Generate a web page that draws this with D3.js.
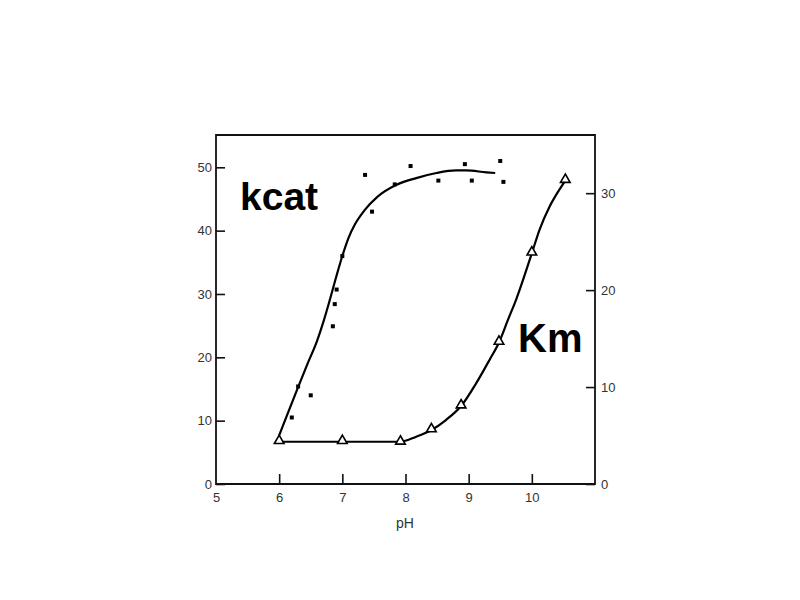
<!DOCTYPE html>
<html>
<head>
<meta charset="utf-8">
<script src="https://cdn.jsdelivr.net/npm/d3@7"></script>
<style>
    body { margin: 0; background: #fff; }
    text { font-family: "Liberation Sans", Arial, sans-serif; }
    .tick text { font-size: 13px; fill: #333; }
    .tick line { stroke: #111; stroke-width: 1.6; }
</style>
</head>
<body>
<svg id="chart" width="800" height="600"></svg>
<script>

// kcat measurements (pH, kcat) - small dots, left axis
let kcatPH  = [6.2, 6.3, 6.5, 6.85, 6.88, 6.91, 7.0, 7.36, 7.47, 7.83, 8.08, 8.52, 8.94, 9.05, 9.5, 9.55];
let kcatVal = [10.5, 15.4, 14.0, 24.9, 28.4, 30.7, 36.0, 48.8, 43.0, 47.3, 50.2, 47.9, 50.5, 47.9, 51.0, 47.7];

// fitted kcat curve
let kcatFitPH  = [6.0, 6.15, 6.3, 6.45, 6.6, 6.7, 6.8, 6.9, 7.0, 7.1, 7.2, 7.35, 7.55, 7.85, 8.17, 8.49, 8.8, 8.96, 9.28, 9.42];
let kcatFitVal = [7.7, 11.5, 15.3, 19.0, 22.6, 25.6, 29.0, 32.6, 36.0, 38.9, 41.0, 43.2, 45.3, 47.2, 48.3, 49.1, 49.5, 49.5, 49.2, 49.1];

// Km measurements (pH, Km) - open triangles, right axis
let kmPH  = [6.0, 7.0, 7.92, 8.41, 8.88, 9.48, 10.0, 10.53];
let kmVal = [4.36, 4.36, 4.3, 5.57, 8.04, 14.6, 23.8, 31.3];

// fitted Km curve
let kmFitPH  = [6.0, 7.0, 7.5, 7.92, 8.17, 8.41, 8.64, 8.88, 9.12, 9.33, 9.48, 9.62, 9.75, 10.0, 10.12, 10.28, 10.43, 10.53];
let kmFitVal = [4.36, 4.36, 4.36, 4.36, 4.88, 5.57, 6.6, 8.04, 10.4, 12.8, 14.6, 16.9, 19.0, 23.8, 26.2, 28.6, 30.3, 31.3];

// tick labels
let xTicks = [5, 6, 7, 8, 9, 10];
let leftTicks = [0, 10, 20, 30, 40, 50];
let rightTicks = [0, 10, 20, 30];

let svg = d3.select('#chart');

// plot frame in pixels
let frameLeft = 216, frameRight = 595, frameTop = 135, frameBottom = 484;

let x = d3.scaleLinear().domain([5, 11]).range([frameLeft, frameRight]);
let yLeft = d3.scaleLinear().domain([0, 55.1]).range([frameBottom, frameTop]);
let yRight = d3.scaleLinear().domain([0, 36]).range([frameBottom, frameTop]);

// axes with inward ticks, the frame is drawn separately
svg.append('g')
    .attr('transform', `translate(0,${frameBottom})`)
    .call(d3.axisBottom(x).tickValues(xTicks).tickFormat(d3.format('d'))
        .tickSizeInner(-10).tickSizeOuter(0).tickPadding(9))
    .call(g => g.select('.domain').remove())
    .call(g => g.selectAll('.tick line').filter(d => d === 5).remove()); // the "5" mark sits on the left axis

svg.append('g')
    .attr('transform', `translate(${frameLeft},0)`)
    .call(d3.axisLeft(yLeft).tickValues(leftTicks).tickSizeInner(-9).tickSizeOuter(0).tickPadding(4))
    .call(g => g.select('.domain').remove());

svg.append('g')
    .attr('transform', `translate(${frameRight},0)`)
    .call(d3.axisRight(yRight).tickValues(rightTicks).tickSizeInner(-9).tickSizeOuter(0).tickPadding(6))
    .call(g => g.select('.domain').remove());

// frame
svg.append('path')
    .attr('d', `M${frameLeft},${frameTop}H${frameRight}V${frameBottom}H${frameLeft}Z`)
    .attr('fill', 'none')
    .attr('stroke', '#111')
    .attr('stroke-width', 1.8);

// curves
let kcatLine = d3.line()
    .x((d, i) => x(kcatFitPH[i]))
    .y(d => yLeft(d))
    .curve(d3.curveMonotoneX);

let kmLine = d3.line()
    .x((d, i) => x(kmFitPH[i]))
    .y(d => yRight(d))
    .curve(d3.curveMonotoneX);

svg.append('path')
    .datum(kcatFitVal)
    .attr('d', kcatLine)
    .attr('fill', 'none')
    .attr('stroke', '#000')
    .attr('stroke-width', 2.2);

svg.append('path')
    .datum(kmFitVal)
    .attr('d', kmLine)
    .attr('fill', 'none')
    .attr('stroke', '#000')
    .attr('stroke-width', 2.2);

// kcat dots
svg.append('g')
    .selectAll('rect')
    .data(kcatVal)
    .join('rect')
        .attr('x', (d, i) => x(kcatPH[i]) - 2)
        .attr('y', d => yLeft(d) - 2)
        .attr('width', 4)
        .attr('height', 4)
        .attr('fill', '#000');

// Km open triangles
let tri = d3.symbol().type(d3.symbolTriangle).size(40);
svg.append('g')
    .selectAll('path')
    .data(kmVal)
    .join('path')
        .attr('d', tri)
        .attr('transform', (d, i) => `translate(${x(kmPH[i])},${yRight(d) - 1})`)
        .attr('fill', '#fff')
        .attr('stroke', '#000')
        .attr('stroke-width', 1.6);

// labels
svg.append('text')
    .attr('x', 405)
    .attr('y', 528)
    .attr('text-anchor', 'middle')
    .attr('font-size', 14)
    .attr('fill', '#333')
    .text('pH');

svg.append('text')
    .attr('x', 240)
    .attr('y', 210)
    .attr('font-size', 39)
    .attr('font-weight', 'bold')
    .attr('fill', '#000')
    .text('kcat');

svg.append('text')
    .attr('x', 518)
    .attr('y', 352)
    .attr('font-size', 40)
    .attr('font-weight', 'bold')
    .attr('fill', '#000')
    .text('Km');

</script>
</body>
</html>
